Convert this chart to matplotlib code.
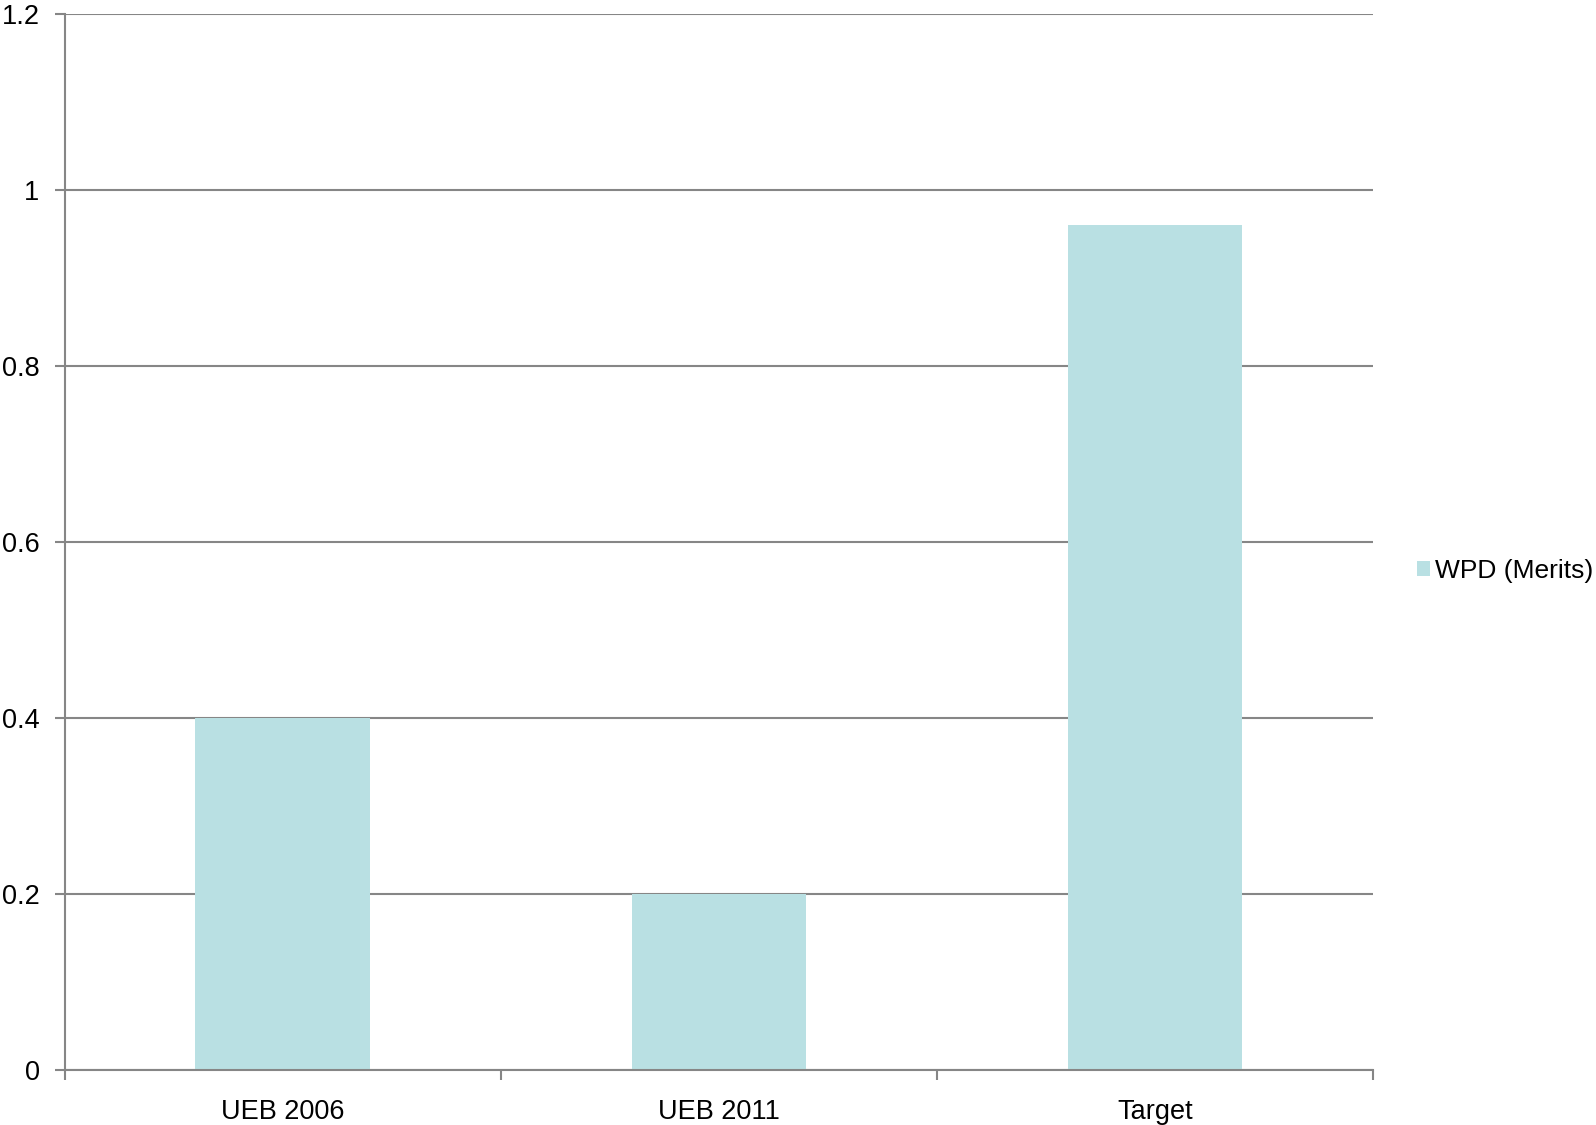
import matplotlib.pyplot as plt
import numpy as np

plt.rcParams['font.family'] = ['Liberation Sans', 'DejaVu Sans']

categories = ['UEB 2006', 'UEB 2011', 'Target']
values = [0.4, 0.2, 0.96]
series_name = 'WPD (Merits)'
yticks = [0, 0.2, 0.4, 0.6, 0.8, 1, 1.2]
ytick_labels = ['0', '0.2', '0.4', '0.6', '0.8', '1', '1.2']

bar_color = '#B9E0E3'
axis_color = '#868686'

fig = plt.figure(figsize=(15.96, 11.25), dpi=100)
ax = fig.add_axes([64.5 / 1596, 1 - 1069.7 / 1125, (1373 - 64.5) / 1596, (1069.7 - 14) / 1125])

x = np.arange(len(categories))
ax.bar(x, values, width=0.4, color=bar_color, label=series_name, zorder=2)

ax.set_xlim(-0.5, len(categories) - 0.5)
ax.set_ylim(0, 1.2)
ax.set_yticks(yticks)
ax.set_yticklabels(ytick_labels)
ax.yaxis.grid(True, color=axis_color, linewidth=1.5, zorder=1)

# category labels in the middle, tick marks on the boundaries
ax.set_xticks(np.arange(len(categories) + 1) - 0.5)
ax.set_xticklabels([])
ax.set_xticks(x, minor=True)
ax.set_xticklabels(categories, minor=True)
ax.tick_params(axis='x', which='minor', length=0, pad=21, labelsize=19.5)
ax.tick_params(axis='x', which='major', length=7, width=1.5, color=axis_color)
ax.tick_params(axis='y', length=7, width=1.5, color=axis_color, labelsize=19.5, pad=11)

for side in ['top', 'right']:
    ax.spines[side].set_visible(False)
for side in ['left', 'bottom']:
    ax.spines[side].set_color(axis_color)
    ax.spines[side].set_linewidth(1.5)
    ax.spines[side].set_zorder(3)

leg = fig.legend(loc='center left', bbox_to_anchor=(1417 / 1596, 1 - 571 / 1125),
                 frameon=False, fontsize=19, handlelength=0.5, handleheight=0.5,
                 handletextpad=0.2, borderpad=0, borderaxespad=0)

fig.savefig('out.png', dpi=100)
